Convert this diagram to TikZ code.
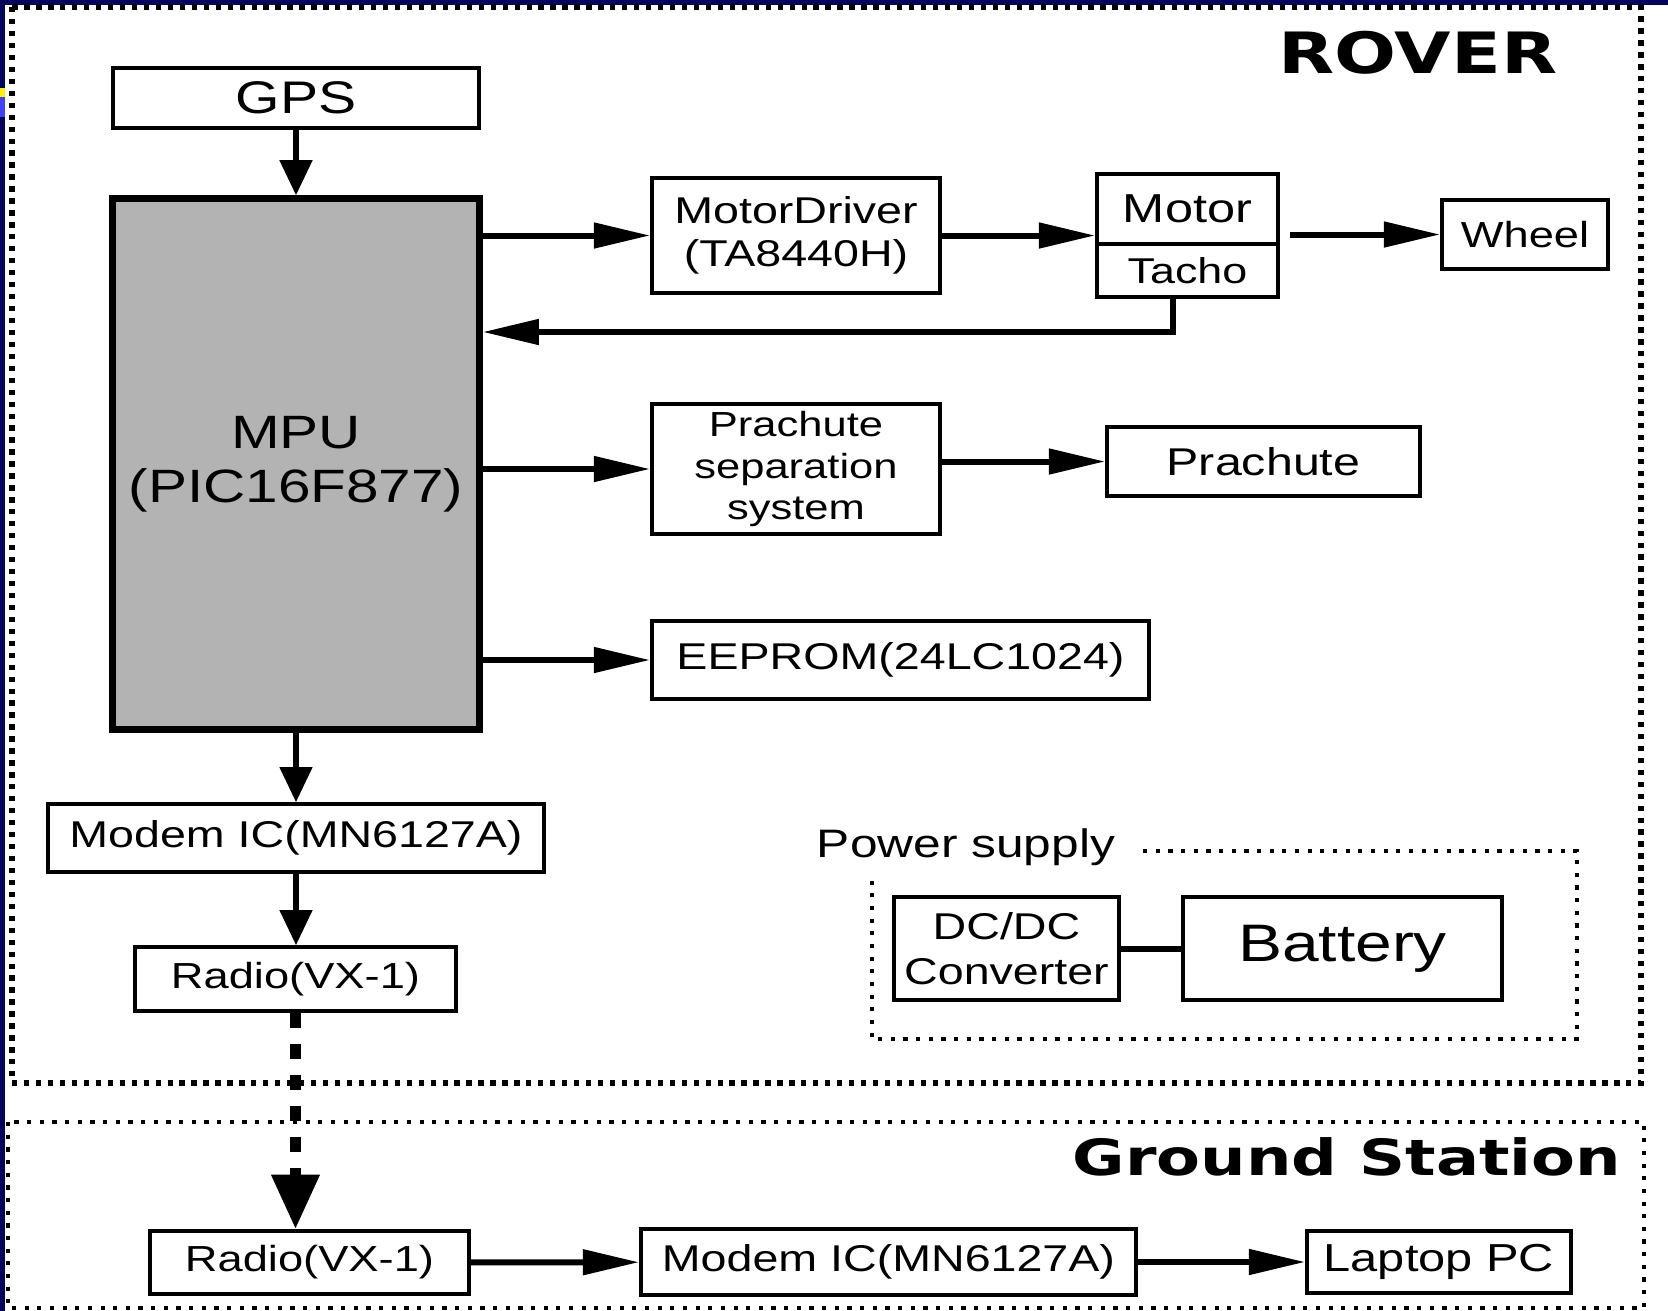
\documentclass[tikz,border=0pt]{standalone}
\usepackage{fontspec}
\setmainfont{Liberation Sans}[FakeStretch=1.25]
\newfontfamily\titlefont{DejaVu Sans}[FakeStretch=1.28]
\usetikzlibrary{arrows.meta,positioning}
\definecolor{navy}{HTML}{03045E}
\definecolor{mpugray}{HTML}{B3B3B3}

\begin{document}
\begin{tikzpicture}[x=0.01cm,y=-0.01cm,
  blk/.style={draw,line width=1pt,inner sep=0pt,align=center,font=\fontsize{10.6}{12.4}\selectfont},
  arr/.style={line width=1.7pt,-{Triangle[length=16pt,width=7pt]}},
  varr/.style={line width=1.7pt,-{Triangle[length=10pt,width=9pt]}},
  wire/.style={line width=1.7pt},
  roverframe/.style={line width=1.6pt,dash pattern=on 1.5pt off 1.9pt},
  subframe/.style={line width=1.3pt,dash pattern=on 1.2pt off 2.4pt},
  title/.style={font=\titlefont\bfseries\fontsize{16.2}{19}\selectfont}
  ]
\useasboundingbox (0,0) rectangle (1668,1311);
% slide background
\fill[navy] (0,0) rectangle (1668,1311);
\fill[white] (5,5) rectangle (1668,1311);
\fill[yellow] (0,88) rectangle (5,97);
\fill[blue!75!white] (0,97) rectangle (5,117);

% frames
\draw[roverframe] (12,7) rectangle (1641,1083);
\draw[subframe] (8,1122) rectangle (1644,1308);
\node[title] (rover) at (1418,53) {ROVER};
\node[title,font=\titlefont\bfseries\fontsize{14.2}{17}\selectfont] (ground) at (1347,1157) {Ground Station};

% rover side
\node[blk,minimum width=3.66cm,minimum height=0.6cm,font=\fontsize{13}{15}\selectfont] (gps) at (296,98) {GPS};
\node[blk,fill=mpugray,line width=2pt,minimum width=3.66cm,minimum height=5.3cm,
      font=\fontsize{13.3}{15.5}\selectfont] (mpu) at (296,464) {MPU\\(PIC16F877)};
\node[blk,minimum width=2.88cm,minimum height=1.15cm] (drv) at (796,235.5) {MotorDriver\\(TA8440H)};
\node[blk,minimum width=1.81cm,minimum height=0.7cm,font=\fontsize{11.5}{13}\selectfont] (motor) at (1187.5,209) {Motor};
\node[blk,minimum width=1.81cm,minimum height=0.53cm,font=\fontsize{10.2}{12}\selectfont] (tacho) at (1187.5,270.5) {Tacho};
\node[blk,minimum width=1.66cm,minimum height=0.69cm,font=\fontsize{10.3}{12}\selectfont] (wheel) at (1525,234.5) {Wheel};
\node[blk,minimum width=2.88cm,minimum height=1.3cm,font=\fontsize{9.9}{11.8}\selectfont] (sep) at (796,469) {Prachute\\separation\\system};
\node[blk,minimum width=3.13cm,minimum height=0.69cm,font=\fontsize{11}{13}\selectfont] (chute) at (1263.5,461.5) {Prachute};
\node[blk,minimum width=4.97cm,minimum height=0.78cm] (eeprom) at (900.5,660) {EEPROM(24LC1024)};
\node[blk,minimum width=4.96cm,minimum height=0.68cm] (modem) at (296,838) {Modem IC(MN6127A)};
\node[blk,minimum width=3.21cm,minimum height=0.64cm,font=\fontsize{10.3}{12}\selectfont] (radio) at (295.5,979) {Radio(VX-1)};

% power supply group
\node[font=\fontsize{11.3}{13}\selectfont] (pwr) at (966,847) {Power supply};
\draw[subframe] (1143,851) -- (1577,851) -- (1577,1039) -- (872,1039) -- (872,879);
\node[blk,minimum width=2.25cm,minimum height=1.03cm,font=\fontsize{10.6}{12.7}\selectfont] (dcdc) at (1006.5,948.5) {DC/DC\\Converter};
\node[blk,minimum width=3.19cm,minimum height=1.03cm,font=\fontsize{15}{18}\selectfont] (batt) at (1342.5,948.5) {Battery};
\draw[wire] (dcdc.east) -- (batt.west);

% ground station
\node[blk,minimum width=3.19cm,minimum height=0.63cm,font=\fontsize{10.3}{12}\selectfont] (gradio) at (309.5,1262.5) {Radio(VX-1)};
\node[blk,minimum width=4.95cm,minimum height=0.66cm] (gmodem) at (888.5,1262) {Modem IC(MN6127A)};
\node[blk,minimum width=2.64cm,minimum height=0.62cm,font=\fontsize{11.1}{13}\selectfont] (laptop) at (1439,1262) {Laptop PC};

% signal flow
\draw[varr] (gps) -- (mpu);
\draw[arr] (mpu.east |- drv.west) -- (drv.west);
\draw[arr] (drv.east) -- (drv.east -| motor.west);
\draw[arr,shorten <=3pt] (wheel.west -| motor.east) -- (wheel.west);
\coordinate (fb) at (1173,332);
\draw[arr] (fb |- tacho.south) -- (fb) -- (fb -| mpu.east);
\draw[arr] (mpu.east |- sep.west) -- (sep.west);
\draw[arr] (sep.east |- chute.west) -- (chute.west);
\draw[arr] (mpu.east |- eeprom.west) -- (eeprom.west);
\draw[varr] (mpu) -- (modem);
\draw[varr] (modem.south) -- (modem.south |- radio.north);
\draw[line width=3.1pt,dash pattern=on 4.3pt off 4.5pt,-{Triangle[length=15.5pt,width=13pt]}]
  (radio.south) -- (radio.south |- gradio.north);
\draw[arr] (gradio) -- (gmodem);
\draw[arr] (gmodem) -- (laptop);
\end{tikzpicture}
\end{document}
